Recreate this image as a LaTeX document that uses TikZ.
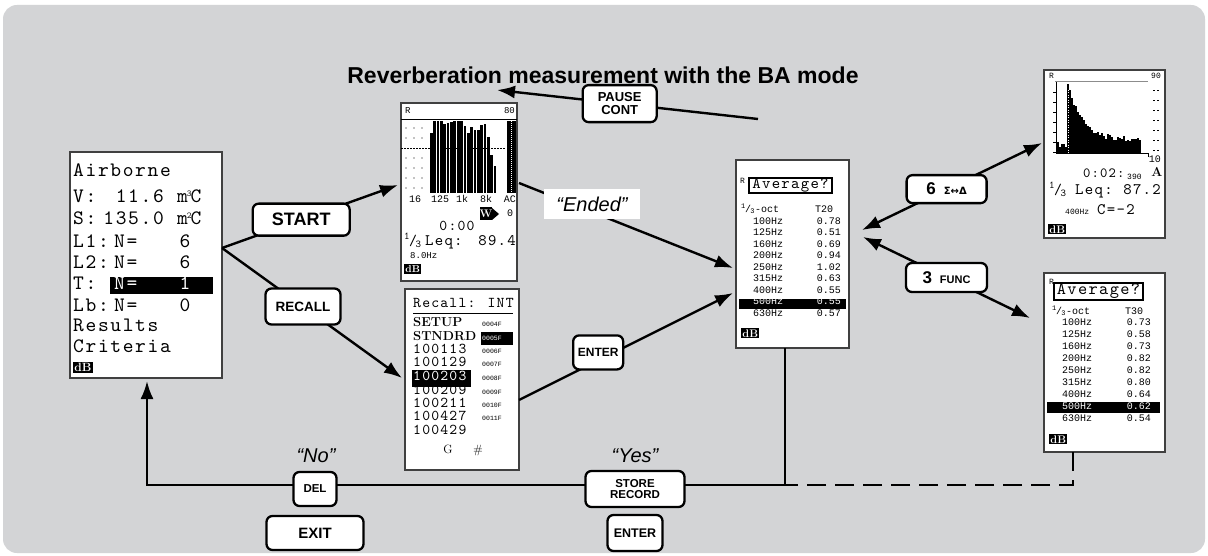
\documentclass[tikz,border=0pt]{standalone}
\usepackage{fontspec}
\setsansfont{Liberation Sans}
\newfontfamily\lcdfont[LetterSpace=8]{lmmono10-regular.otf}
\newfontfamily\pixfont{Liberation Mono}
\newfontfamily\symfont{DejaVu Sans}
\usepackage{tikz}
\usetikzlibrary{arrows.meta,positioning,calc}
\definecolor{panel}{RGB}{211,212,214}
\newcommand\fsz[1]{\fontsize{#1}{#1}\selectfont}
\newcommand\thirdfrac{\textsuperscript{1}\kern-.08em/\kern-.08em\textsubscript{3}}
\newcommand\tinysup[1]{\kern-1pt\raisebox{6pt}{\fsz{9}#1}\kern-1pt}

\begin{document}
\begin{tikzpicture}[x=1pt, y=-1pt,
  screen/.style={draw=black!75, line width=1.1pt, fill=white, inner sep=0pt, outer sep=0pt, anchor=north west},
  btn/.style={draw, line width=2.3pt, rounded corners=6pt, fill=white, align=center, inner sep=0pt, font=\sffamily\bfseries},
  flow/.style={line width=2.4pt, -{Latex[length=18pt,width=13pt]}},
  twoway/.style={line width=2.4pt, {Latex[length=18pt,width=13pt]}-{Latex[length=18pt,width=13pt]}},
  lcd/.style={inner sep=0pt, anchor=mid west, font=\lcdfont\fsz{20.5}},
  pix/.style={inner sep=0pt, anchor=mid west, font=\pixfont\fsz{10}},
  dblogo/.style={fill=black, text=white, inner sep=1.2pt, anchor=north west, font=\rmfamily\bfseries\fsz{12}},
  said/.style={inner sep=1pt, font=\sffamily\itshape\fsz{20}}
]
\fill[white] (0,0) rectangle (1208,556);
\fill[panel, rounded corners=14pt] (3,5) rectangle (1205,553);
\useasboundingbox (0,0) rectangle (1208,556);
\node[font=\sffamily\bfseries\fsz{23}] (title) at (603,75) {Reverberation measurement with the BA mode};

% menu screen
\node[screen, minimum width=152pt, minimum height=226pt] (menu) at (70,152) {};
\fill (110,277) rectangle (213,294);
\node[lcd] (mAir) at (73,174) {Airborne};
\node[lcd] (mV) at (73,200) {V:};
\node[lcd, anchor=mid east] (mVval) at (164,200) {11.6};
\node[lcd] (mVunit) at (177,200) {m\tinysup{3}C};
\node[lcd] (mS) at (73,222) {S:};
\node[lcd, anchor=mid east] (mSval) at (164,222) {135.0};
\node[lcd] (mSunit) at (177,222) {m\tinysup{2}C};
\foreach \lab/\val/\yy in {L1/6/245, L2/6/266, Lb/0/309} {
  \node[lcd] (m\lab) at (73,\yy) {\lab:};
  \node[lcd] (m\lab n) at (114,\yy) {N=};
  \node[lcd, anchor=mid] (m\lab v) at (185,\yy) {\val};
}
\node[lcd] (mT) at (73,287) {T:};
\node[lcd, text=white] (mTn) at (114,287) {N=};
\node[lcd, anchor=mid, text=white] (mTv) at (185,287) {1};
\node[lcd] (mRes) at (73,329) {Results};
\node[lcd] (mCrit) at (73,350) {Criteria};
\node[dblogo] (mDb) at (73,362) {dB};

% spectrum screen
\node[screen, minimum width=116pt, minimum height=178pt] (spec) at (401,103) {};
\node[pix, font=\pixfont\fsz{9}] (specR) at (405,111) {R};
\node[pix, font=\pixfont\fsz{9}, anchor=mid east] (specTop) at (515,111) {80};
\draw[line width=0.8pt] (401,119) -- (517,119);
\foreach \gx in {406,414,422} \foreach \gy in {128,138,158,168,178,188} \fill (\gx,\gy) circle (0.6);
\draw[line width=0.6pt, dash pattern=on 1.5pt off 1.5pt] (401,148) -- (505,148);
\foreach \t [count=\i from 0] in {133,121,121,121,124,123,122,121,121,121,126,133,127,130,130,125,124,137,155,166}
  \fill ({430+\i*3.35},\t) rectangle ++(2.7,{193-\t});
\fill (507,121) rectangle (516,193);
\draw[white, line width=0.6pt, dash pattern=on 1pt off 1pt] (511.5,121) -- (511.5,193);
\foreach \lx/\lt in {415/16, 440/125, 462/1k, 486/8k}
  \node[pix, anchor=mid, font=\pixfont\fsz{10}] (band\lt) at (\lx,200) {\lt};
\node[pix, anchor=mid east, font=\pixfont\fsz{10}] (bandAC) at (516,200) {AC};
\node[fill=black, text=white, inner sep=0pt, minimum width=12pt, minimum height=13pt, font=\rmfamily\bfseries\fsz{11}] (wgt) at (486,214) {W};
\fill (492,208) -- (499,214) -- (492,220) -- cycle;
\node[pix, anchor=mid, font=\pixfont\fsz{10}] (wgtZero) at (510,214) {0};
\node[lcd, anchor=mid, font=\lcdfont\fsz{15}] (specTime) at (457,228) {0:00};
\node[lcd, font=\lcdfont\fsz{15}] (specThird) at (404,243) {\thirdfrac};
\node[lcd, font=\lcdfont\fsz{16}] (specLeq) at (425,243) {Leq:};
\node[lcd, anchor=mid east, font=\lcdfont\fsz{16}] (specVal) at (516,243) {89.4};
\node[pix, font=\pixfont\fsz{9}] (specHz) at (410,256) {8.0Hz};
\node[dblogo, font=\rmfamily\bfseries\fsz{10}] (specDb) at (404,264) {dB};

% recall screen
\node[screen, minimum width=114pt, minimum height=181pt] (recall) at (405,289) {};
\node[lcd, font=\lcdfont\fsz{15}] (recTitle) at (413,305) {Recall: INT};
\draw[line width=0.9pt] (413,313) -- (513,313);
\fill (412,370) rectangle (471,387);
\fill (481,332) rectangle (513,345);
\node[lcd, font=\rmfamily\bfseries\fsz{13}] (recSetup) at (413,324) {SETUP};
\node[lcd, font=\rmfamily\bfseries\fsz{13}] (recStd) at (413,338) {STNDRD};
\foreach \nm/\yy in {100113/351, 100129/364, 100209/392, 100211/405, 100427/418, 100429/432}
  \node[lcd, font=\lcdfont\fsz{15}] (rec\nm) at (413,\yy) {\nm};
\node[lcd, font=\lcdfont\fsz{15}, text=white] (rec100203) at (413,378) {100203};
\foreach \cd/\yy in {0004F/324, 0006F/351, 0007F/364, 0008F/378, 0009F/392, 0010F/405, 0011F/418}
  \node[pix, font=\pixfont\fsz{6.5}] (code\cd) at (482,\yy) {\cd};
\node[pix, font=\pixfont\fsz{6.5}, text=white] (code0005F) at (482,338) {0005F};
\node[anchor=mid, inner sep=0pt, font=\rmfamily\fsz{12}] (recG) at (448,451) {G};
\node[anchor=mid, inner sep=0pt, font=\rmfamily\fsz{12}] (recHash) at (478,451) {\#};

% T20 average screen
\node[screen, minimum width=113pt, minimum height=188pt] (avg20) at (736,160) {};
\node[pix, font=\pixfont\fsz{8}] (avg20R) at (740,181) {R};
\node[draw, line width=1.1pt, inner sep=0pt, minimum width=83pt, minimum height=15pt, font=\lcdfont\fsz{16}] (avg20Head) at (790.5,185.5) {Average?};
\node[pix] (avg20Oct) at (741,210) {\thirdfrac-oct};
\node[pix] (avg20T) at (815,210) {T20};
\fill (739,299) rectangle (846,309);
\foreach \f/\v [count=\i from 0] in {100/0.78,125/0.51,160/0.69,200/0.94,250/1.02,315/0.63,400/0.55,500/0.55,630/0.57} {
  \ifnum\i=7 \colorlet{rowc}{white}\else\colorlet{rowc}{black}\fi
  \node[pix, text=rowc] (avg20f\i) at (753,{222+\i*11.5}) {\f Hz};
  \node[pix, text=rowc, anchor=mid east] (avg20v\i) at (841,{222+\i*11.5}) {\v};
}
\node[dblogo, font=\rmfamily\bfseries\fsz{11}] (avg20Db) at (741,328) {dB};

% decay screen
\node[screen, minimum width=121pt, minimum height=168pt] (hist) at (1044,70) {};
\node[pix, font=\pixfont\fsz{8}] (histR) at (1049,76) {R};
\node[pix, font=\pixfont\fsz{8}, anchor=mid east] (histTop) at (1161,76) {90};
\draw[black!45, line width=1pt] (1055,82) -- (1148,82);
\draw[line width=0.8pt] (1056,82) -- (1056,153) -- (1148,153) -- (1148,157);
\foreach \ty in {92,102,...,152} \draw[line width=0.6pt] (1053,\ty) -- (1056,\ty);
\foreach \ty in {90,100,...,150} \draw[line width=0.6pt] (1153,\ty) -- (1155,\ty) (1157,\ty) -- (1159,\ty);
\pgfmathsetseed{3}
\foreach \i in {0,...,41} {
  \pgfmathsetmacro\hx{1057+2*\i}
  \pgfmathsetmacro\ht{\i<5 ? 141+6*rnd : 153-(55*exp(-(\i-5)/7)+10+6*rnd)}
  \fill (\hx,\ht) rectangle ({\hx+2},153);
}
\draw[white, line width=0.6pt, dash pattern=on 1pt off 1.5pt] (1068,90) -- (1068,153);
\node[pix, font=\pixfont\fsz{10}, anchor=mid east] (histLow) at (1161,160) {10};
\node[lcd, font=\lcdfont\fsz{14}] (histTime) at (1083,175) {0:02:};
\node[pix, font=\pixfont\fsz{8}] (histMs) at (1127,177) {390};
\node[anchor=mid, inner sep=0pt, font=\rmfamily\bfseries\fsz{13}] (histA) at (1157,174) {A};
\node[lcd, font=\lcdfont\fsz{15}] (histThird) at (1049,192) {\thirdfrac};
\node[lcd, font=\lcdfont\fsz{16}] (histLeq) at (1075,192) {Leq:};
\node[lcd, anchor=mid east, font=\lcdfont\fsz{16}] (histVal) at (1161,192) {87.2};
\node[pix, font=\pixfont\fsz{8}] (histHz) at (1065,212) {400Hz};
\node[lcd, font=\lcdfont\fsz{16}] (histC) at (1097,212) {C=-2};
\node[dblogo, font=\rmfamily\bfseries\fsz{11}] (histDb) at (1048,224) {dB};

% T30 average screen
\node[screen, minimum width=121pt, minimum height=179pt] (avg30) at (1044,273) {};
\node[pix, font=\pixfont\fsz{8}] (avg30R) at (1049,282) {R};
\node[draw, line width=1.1pt, inner sep=0pt, minimum width=89pt, minimum height=17pt, font=\lcdfont\fsz{17.5}] (avg30Head) at (1098.5,291.5) {Average?};
\node[pix] (avg30Oct) at (1052,312) {\thirdfrac-oct};
\node[pix] (avg30T) at (1125,312) {T30};
\fill (1047,402) rectangle (1160,413);
\foreach \f/\v [count=\i from 0] in {100/0.73,125/0.58,160/0.73,200/0.82,250/0.82,315/0.80,400/0.64,500/0.62,630/0.54} {
  \ifnum\i=7 \colorlet{rowc}{white}\else\colorlet{rowc}{black}\fi
  \node[pix, text=rowc] (avg30f\i) at (1062,{323+\i*12}) {\f Hz};
  \node[pix, text=rowc, anchor=mid east] (avg30v\i) at (1151,{323+\i*12}) {\v};
}
\node[dblogo, font=\rmfamily\bfseries\fsz{11}] (avg30Db) at (1049,434) {dB};

% connectors
\coordinate (fork) at (222,248);
\coordinate (specIn) at (398,185);
\coordinate (recallIn) at (402,378);
\coordinate (specOut) at (519,183);
\coordinate (avgIn1) at (733,268);
\coordinate (pauseFrom) at (758,119);
\coordinate (pauseTo) at (497,90);
\coordinate (recallOut) at (519,400);
\coordinate (avgIn2) at (733,293);
\coordinate (avgIn3) at (862,230);
\coordinate (histIn) at (1042,143);
\coordinate (avgIn4) at (863,237);
\coordinate (t30In) at (1030,318);
\coordinate (avgOut) at (785,348);
\coordinate (corner1) at (785,485);
\coordinate (corner2) at (147,485);
\coordinate (menuIn) at (147,381);
\coordinate (t30Out) at (1073,452);
\coordinate (corner3) at (1073,485);

\draw[flow] (fork) -- node[btn, pos=0.45, minimum width=97pt, minimum height=32pt, font=\sffamily\bfseries\fsz{18}] (start) {START} (specIn);
\draw[flow] (fork) -- node[btn, pos=0.45, minimum width=75pt, minimum height=36pt, font=\sffamily\bfseries\fsz{13.5}] (recallKey) {RECALL} (recallIn);
\draw[flow] (specOut) -- (avgIn1);
\node[fill=white, minimum width=96pt, minimum height=30pt, inner sep=0pt, font=\sffamily\itshape\fsz{20}] (ended) at (592,204) {“Ended”};
\draw[flow] (pauseFrom) -- node[btn, pos=0.53, minimum width=74pt, minimum height=37pt, font=\sffamily\bfseries\fsz{13}] (pause) {PAUSE\\CONT} (pauseTo);
\draw[flow] (recallOut) -- node[btn, pos=0.37, yshift=8pt, minimum width=50pt, minimum height=34pt, font=\sffamily\bfseries\fsz{12}] (enterKey) {ENTER} (avgIn2);
\draw[twoway] (avgIn3) -- node[btn, pos=0.47, minimum width=80pt, minimum height=28pt] (sixKey) {\fsz{17}6\hspace{8pt}{\symfont\bfseries\fsz{10}Σ↔Δ}} (histIn);
\draw[twoway] (avgIn4) -- node[btn, pos=0.5, minimum width=81pt, minimum height=29pt] (threeKey) {\fsz{17}3\hspace{8pt}\fsz{11}FUNC} (t30In);
\draw[flow] (avgOut) -- (corner1) -- (corner2) -- (menuIn);
\draw[line width=2.4pt, dash pattern=on 19pt off 9pt] (t30Out) -- (corner3) -- (corner1);

\node[said] (no) at (316,456) {“No”};
\node[said] (yes) at (635,456) {“Yes”};
\node[btn, minimum width=43pt, minimum height=34pt, font=\sffamily\bfseries\fsz{11.5}] (delKey) at (315,489) {DEL};
\node[btn, minimum width=99pt, minimum height=36pt, font=\sffamily\bfseries\fsz{11.5}] (storeKey) at (635,489) {STORE\\RECORD};
\node[btn, minimum width=97pt, minimum height=34pt, font=\sffamily\bfseries\fsz{15}] (exitKey) at (315,533) {EXIT};
\node[btn, minimum width=55pt, minimum height=36pt, font=\sffamily\bfseries\fsz{12.5}] (enterKey2) at (635,533) {ENTER};
\end{tikzpicture}
\end{document}
